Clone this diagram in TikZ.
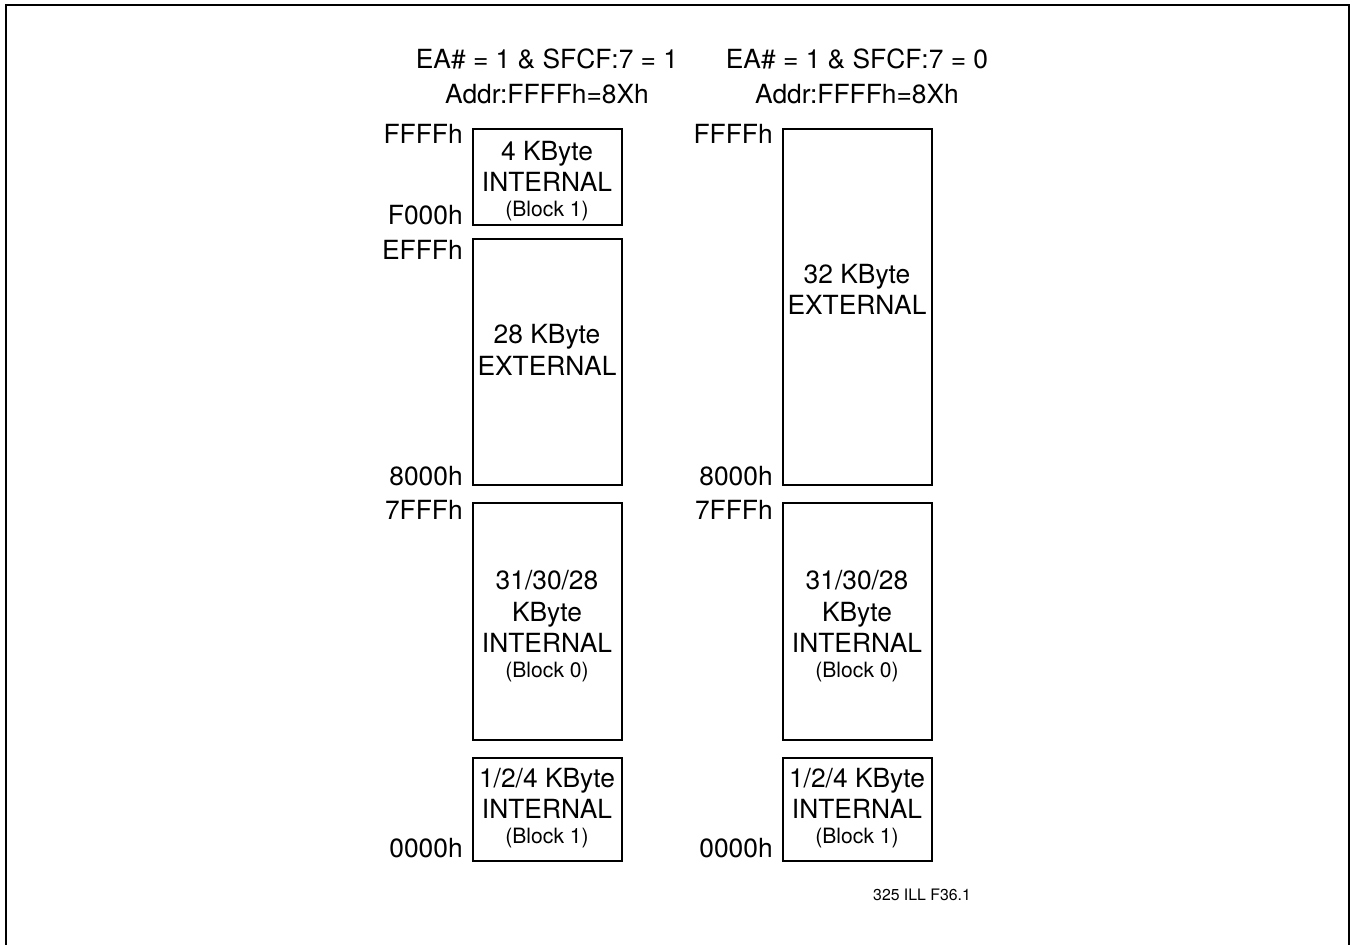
\documentclass[tikz,border=0pt]{standalone}
\usepackage{fontspec}
\setmainfont{TeX Gyre Heros}

\begin{document}
\begin{tikzpicture}[x=0.02cm,y=-0.02cm,
  blk/.style={draw,line width=1.1pt},
  big/.style={font=\fontsize{15}{17}\selectfont},
  small/.style={font=\fontsize{12}{14}\selectfont,anchor=base,inner sep=0pt},
  adr/.style={big,anchor=base east,inner sep=0pt},
  txt/.style={big,anchor=base,inner sep=0pt}]
\useasboundingbox (0,0) rectangle (1352,945);
% cadre, ouvert en bas
\draw[line width=1.2pt] (6,945) -- (6,5) -- (1349,5) -- (1349,945);
% les deux colonnes : partie commune
\foreach \o/\s/\v in {0/l/1,310/r/0}{
  \node[txt] (ea\s) at (547+\o,69) {EA\# = 1 \& SFCF:7 = \v};
  \node[txt] (map\s) at (547+\o,104) {Addr:FFFFh=8Xh};
  \node[adr] (top\s) at (463+\o,144) {FFFFh};
  \node[adr] (half\s) at (463+\o,486) {8000h};
  \node[adr] (low\s) at (463+\o,520) {7FFFh};
  \node[adr] (zero\s) at (463+\o,857) {0000h};
  % bloc 0
  \draw[blk] (473+\o,503) rectangle (622+\o,740);
  \node[txt] (bzA\s) at (547+\o,589) {31/30/28};
  \node[txt] (bzB\s) at (547+\o,621) {KByte};
  \node[txt] (bzC\s) at (547+\o,652) {INTERNAL};
  \node[small] (bzD\s) at (547+\o,677) {(Block 0)};
  % bloc 1 bas
  \draw[blk] (473+\o,758) rectangle (622+\o,861);
  \node[txt] (boA\s) at (547+\o,787) {1/2/4 KByte};
  \node[txt] (boB\s) at (547+\o,818) {INTERNAL};
  \node[small] (boC\s) at (547+\o,843) {(Block 1)};
}
% gauche : 4K interne + 28K externe
\node[adr] (f000) at (463,225) {F000h};
\node[adr] (efff) at (463,260) {EFFFh};
\draw[blk] (473,129) rectangle (622,225);
\node[txt] (ihA) at (547,161) {4 KByte};
\node[txt] (ihB) at (547,192) {INTERNAL};
\node[small] (ihC) at (547,217) {(Block 1)};
\draw[blk] (473,239) rectangle (622,485);
\node[txt] (exA) at (547,344) {28 KByte};
\node[txt] (exB) at (547,376) {EXTERNAL};
% droite : 32K externe
\draw[blk] (783,129) rectangle (932,485);
\node[txt] (exC) at (857,284) {32 KByte};
\node[txt] (exD) at (857,315) {EXTERNAL};
\node[anchor=base,inner sep=0pt,font=\fontsize{9}{11}\selectfont] (ref) at (922,900) {325 ILL F36.1};
\end{tikzpicture}
\end{document}
